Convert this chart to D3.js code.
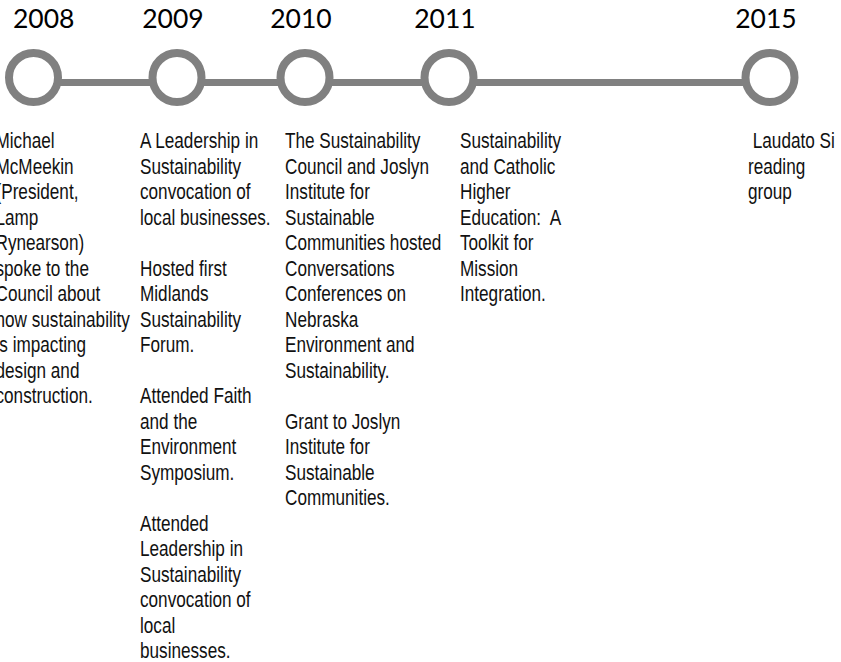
<!DOCTYPE html>
<html>
<head>
<meta charset="utf-8">
<script src="https://cdn.jsdelivr.net/npm/d3@7"></script>
<style>
  body { margin: 0; background: #fff; }
  svg { display: block; }
  .year { font-family: Lato, "Open Sans", sans-serif; font-size: 26.5px; fill: #000; }
  .note { font-family: "Liberation Sans", Arial, sans-serif; font-size: 22px; fill: #111; white-space: pre; }
</style>
</head>
<body>
<svg></svg>
<script>
'use strict';
// timeline data
var years = [2008, 2009, 2010, 2011, 2015];

var notes2008 = ["Michael", "McMeekin", "(President,", "Lamp", "Rynearson)", "spoke to the",
  "Council about", "how sustainability", "is impacting", "design and", "construction."];
var notes2009 = ["A Leadership in", "Sustainability", "convocation of", "local businesses.", "",
  "Hosted first", "Midlands", "Sustainability", "Forum.", "",
  "Attended Faith", "and the", "Environment", "Symposium.", "",
  "Attended", "Leadership in", "Sustainability", "convocation of", "local", "businesses."];
var notes2010 = ["The Sustainability", "Council and Joslyn", "Institute for", "Sustainable",
  "Communities hosted", "Conversations", "Conferences on", "Nebraska", "Environment and",
  "Sustainability.", "", "Grant to Joslyn", "Institute for", "Sustainable", "Communities."];
var notes2011 = ["Sustainability", "and Catholic", "Higher", "Education:  A", "Toolkit for",
  "Mission", "Integration."];
var notes2015 = [" Laudato Si", "reading", "group"];

var notes = [notes2008, notes2009, notes2010, notes2011, notes2015];

// layout
var canvasWidth = 841, canvasHeight = 662;
var lineY = 82.5, circleY = 77.5, radius = 24.5;
var textTop = 148.3, lineGap = 25.5;
var textShift = [-38, -37, -20, 11, -22];
var grey = '#808080';

var svg = d3.select('svg')
  .attr('width', canvasWidth)
  .attr('height', canvasHeight);

var xScale = d3.scaleLinear()
  .domain(years)
  .range([33.5, 177, 305, 449, 770]);

// connecting bar
svg.append('line')
  .attr('x1', xScale(years[0]))
  .attr('x2', xScale(years[years.length - 1]))
  .attr('y1', lineY)
  .attr('y2', lineY)
  .attr('stroke', grey)
  .attr('stroke-width', 7);

// rings
svg.selectAll('circle')
  .data(years)
  .enter()
  .append('circle')
  .attr('cx', function(d) { return xScale(d); })
  .attr('cy', circleY)
  .attr('r', radius)
  .attr('fill', '#fff')
  .attr('stroke', grey)
  .attr('stroke-width', 8);

// year labels
svg.selectAll('text.year')
  .data(years)
  .enter()
  .append('text')
  .attr('class', 'year')
  .attr('y', 28.3)
  .attr('text-anchor', 'middle')
  .text(function(d) { return d; })
  .attr('x', function(d) {
    var w = this.getComputedTextLength();
    return Math.max(xScale(d) - 4, 13 + w / 2);
  });

// note columns (text is narrow, like the original)
var cols = svg.selectAll('g.col')
  .data(years)
  .enter()
  .append('g')
  .attr('class', 'col')
  .attr('transform', function(d, i) {
    return 'translate(' + (xScale(d) + textShift[i]) + ',0) scale(0.78,1)';
  });

cols.each(function(d, i) {
  d3.select(this).selectAll('text')
    .data(notes[i])
    .enter()
    .append('text')
    .attr('class', 'note')
    .attr('x', 0)
    .attr('y', function(t, j) { return textTop + j * lineGap; })
    .text(function(t) { return t; });
});
</script>
</body>
</html>
